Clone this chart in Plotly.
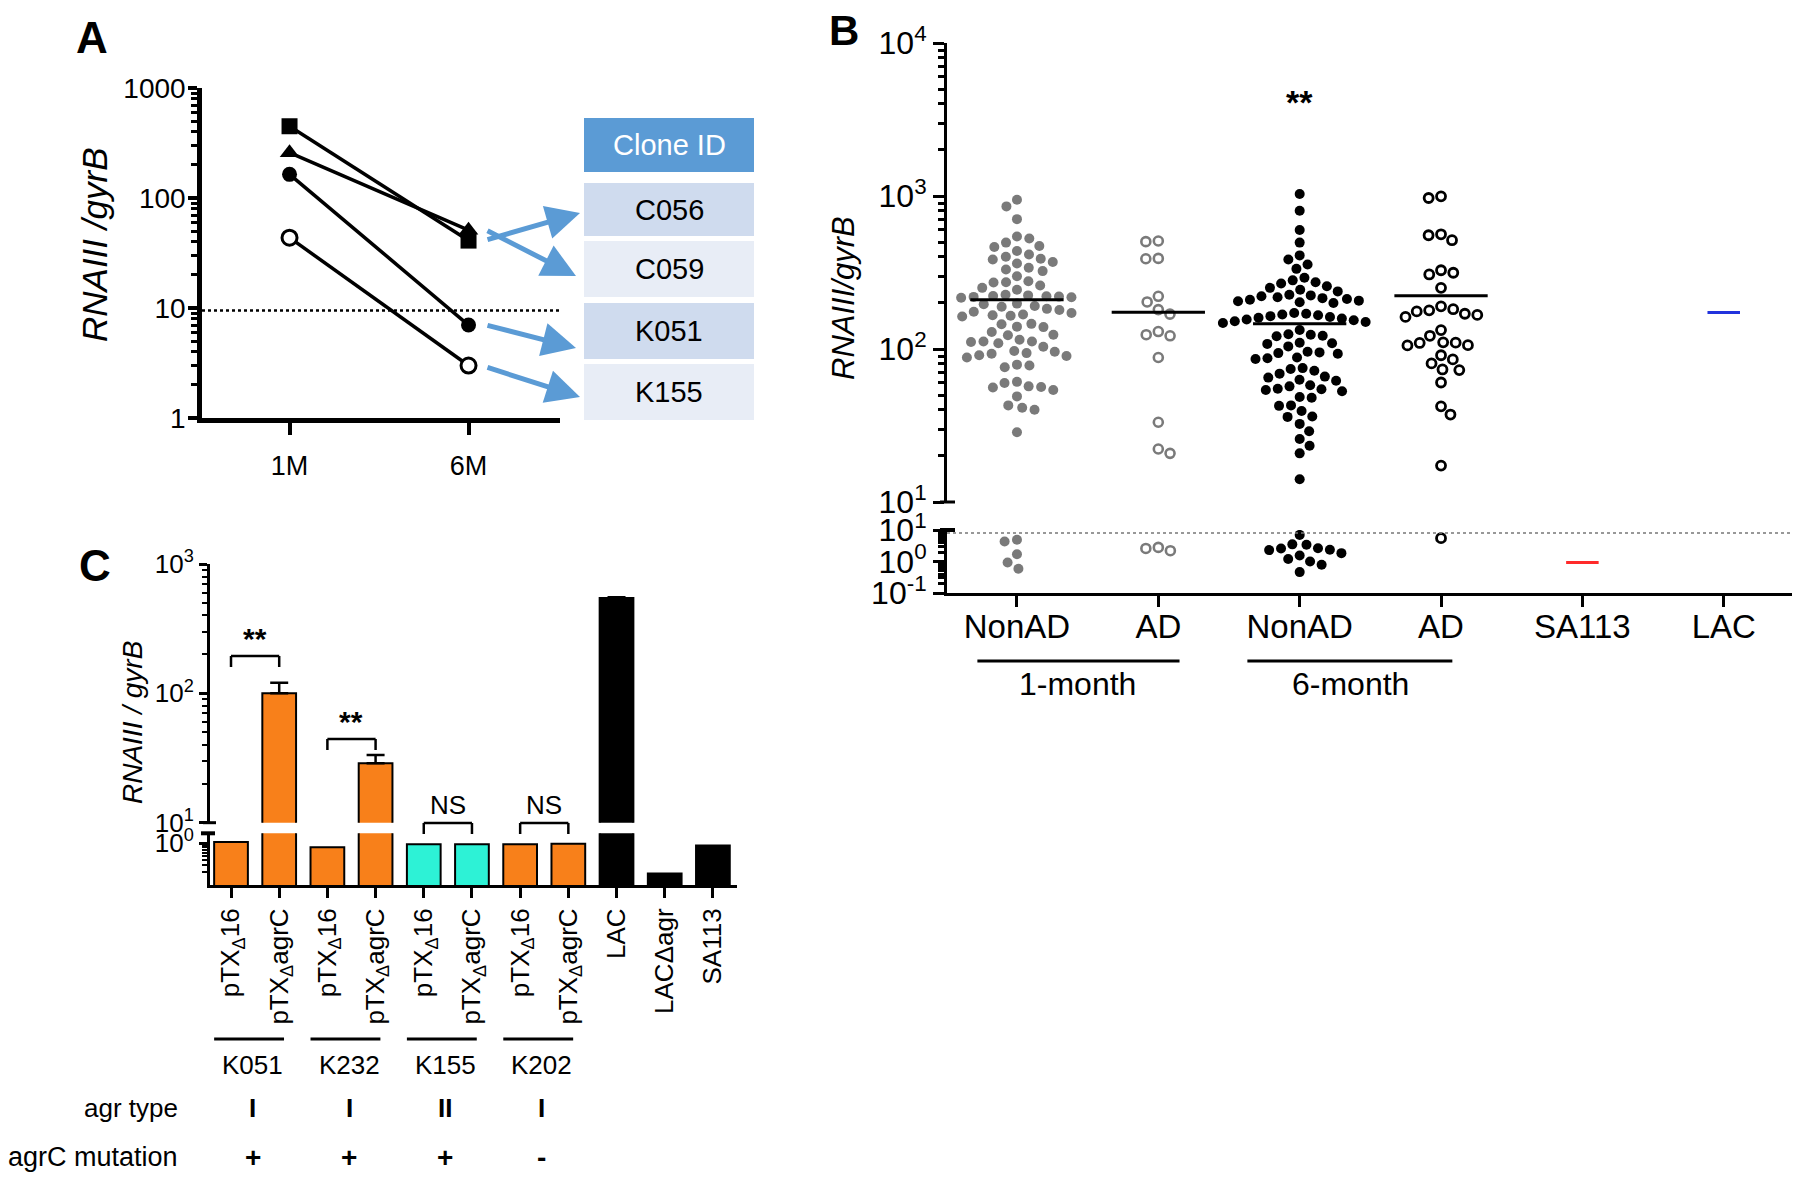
import math
import plotly.graph_objects as go

W, H = 1800, 1181
OFF = 8  # page body margin of the browser

# ---------------- data ----------------
# Panel A : RNAIII/gyrB of four clones at 1 and 6 months
a_times = ["1M", "6M"]
a_square = [449, 41]
a_triangle = [258, 51]
a_filled_circle = [164, 7.0]
a_open_circle = [43.6, 3.0]
a_threshold = 9.5
clone_ids = ["C056", "C059", "K051", "K155"]

# Panel B : individual isolates
b_categories = ["NonAD", "AD", "NonAD", "AD", "SA113", "LAC"]
b_periods = ["1-month", "6-month"]
b_nonad_1m = [946, 855, 706, 543, 527, 496, 471, 464, 437, 415, 401, 389, 385, 370, 362,
              340, 331, 323, 299, 277, 273, 272, 260, 251, 244,
              226, 224, 222, 221, 220, 219, 218, 216, 198, 196, 191, 189, 183, 180, 175,
              172, 168, 166, 165, 163,
              146, 145, 140, 139, 129, 124, 123, 115, 112, 112, 111, 109, 103.5, 97, 96,
              94, 93, 91, 90, 88, 79, 78, 76, 61, 60, 57, 56.5, 56, 54, 49, 42.8, 41.3,
              40.1, 28.6,
              4.9, 4.3, 1.7, 0.93, 0.59]
b_ad_1m = [508, 503, 391, 389, 221, 203, 181, 169, 130, 124, 122, 88, 33.2, 22.2, 20.8,
           2.8, 2.6, 2.2]
b_nonad_6m = [1030, 800, 600, 496, 409, 385, 357, 334, 292, 281, 273, 268, 257, 251, 244, 238,
              226, 224, 221, 218, 215, 212, 210, 207, 205, 202, 200,
              172, 170,
              168, 166, 164, 162, 160, 158, 156, 154, 152, 150, 148,
              133, 125, 124, 122, 121, 110, 109, 108, 104, 96, 95, 94, 93, 88, 87, 86,
              75, 74, 72, 69, 66, 65, 63, 62, 58, 57, 55, 54.5, 54, 53, 48.5, 48, 42.8,
              42.5, 39.3, 36.2, 36, 32.4, 29, 25.8, 23.3, 20.8, 14.1,
              7.0, 3.5, 2.6, 2.35, 1.84, 1.55, 2.3, 2.65, 3.4, 1.0, 1.2, 0.79, 0.46]
b_ad_6m = [995, 970, 562, 554, 514, 327, 315, 307, 251, 190, 182, 179, 176, 170, 167, 162,
           133, 122, 110, 110.5, 109.5, 106, 105.5, 91, 85.5, 80.5, 73.5, 72.8, 60.4, 42.2,
           37.3, 17.3, 5.5]
b_medians = [210, 174, 146, 223]
b_sa113 = 0.93
b_lac = 173
b_threshold = 8
b_signif = "**"

# Panel C : complementation
c_labels = ["pTX<sub>Δ</sub>16", "pTX<sub>Δ</sub>agrC", "pTX<sub>Δ</sub>16", "pTX<sub>Δ</sub>agrC",
            "pTX<sub>Δ</sub>16", "pTX<sub>Δ</sub>agrC", "pTX<sub>Δ</sub>16", "pTX<sub>Δ</sub>agrC",
            "LAC", "LACΔagr", "SA113"]
c_values = [1.08, 100, 0.80, 28.8, 0.95, 0.95, 0.95, 0.97, 545, 0.19, 0.88]
c_errors = [0.03, 21, 0.02, 4.5, 0.02, 0.02, 0.02, 0.02, 8, 0.01, 0.02]
c_clones = ["K051", "K232", "K155", "K202"]
c_agr_type = ["I", "I", "II", "I"]
c_agrc_mut = ["+", "+", "+", "-"]
c_signif = ["**", "**", "NS", "NS"]

# ---------------- styles ----------------
ORANGE = "#F8801A"
CYAN = "#2DF2D6"
GRAY = "#7a7a7a"
BLUE = "#5B9BD5"
c_colors = [ORANGE] * 4 + [CYAN] * 2 + [ORANGE] * 2 + ["black"] * 3
SANS = "Liberation Sans, Arial"


def px(x):
    return (x - OFF) / W


def py(y):
    return 1 - (y - OFF) / H


def minor_vals(e0, e1):
    return [m * 10 ** e for e in range(e0, e1) for m in range(2, 10)]


def swarm_offsets(values, px_per_decade, px_per_cat, min_dist):
    ys = [math.log10(v) * px_per_decade for v in values]
    order = sorted(range(len(values)), key=lambda i: -ys[i])
    placed = []
    out = [0.0] * len(values)
    flip = 1
    for i in order:
        y = ys[i]
        cands = {0.0}
        for (xp, yp) in placed:
            dy = abs(yp - y)
            if dy < min_dist:
                dx = math.sqrt(min_dist ** 2 - dy ** 2)
                cands.add(xp + dx)
                cands.add(xp - dx)
        best = 0.0
        for c in sorted(cands, key=lambda c: (round(abs(c), 6), -flip * c)):
            if all((c - xp) ** 2 + (y - yp) ** 2 >= min_dist ** 2 - 1e-6 for xp, yp in placed):
                best = c
                break
        flip = -flip
        out[i] = best / px_per_cat
        placed.append((best, y))
    return out


fig = go.Figure()

# ================= Panel A =================
A_XR = [-0.489, 1.511]
a_x = [0, 1]
a_series = [
    (a_square, "square", 16, "black"),
    (a_triangle, "triangle-up", 17, "black"),
    (a_filled_circle, "circle", 15, "black"),
    (a_open_circle, "circle", 15, "white"),
]
fig.add_trace(go.Scatter(x=list(A_XR), y=[a_threshold, a_threshold], mode="lines",
                         line=dict(color="black", width=2.5, dash="dot"),
                         xaxis="x", yaxis="y", showlegend=False, hoverinfo="skip"))
for vals, sym, size, col in a_series:
    fig.add_trace(go.Scatter(
        x=a_x, y=vals, mode="lines+markers",
        line=dict(color="black", width=3.5),
        marker=dict(symbol=sym, size=size, color=col,
                    line=dict(color="black", width=3 if col == "white" else 0)),
        xaxis="x", yaxis="y", showlegend=False))

# ================= Panel B =================
B_XR = [-0.495, 5.49]
B_UP = (502 - 43) / 3.0
B_LO = (593 - 530) / 2.0
B_PXCAT = (1793 - 947) / (B_XR[1] - B_XR[0])

b_groups = [
    (b_nonad_1m, dict(symbol="circle", size=10, color=GRAY), 12.5),
    (b_ad_1m, dict(symbol="circle-open", size=9, color=GRAY, line=dict(color=GRAY, width=2.6)), 12.5),
    (b_nonad_6m, dict(symbol="circle", size=10, color="black"), 12.0),
    (b_ad_6m, dict(symbol="circle-open", size=9, color="black", line=dict(color="black", width=2.8)), 12.5),
]
for gi, (vals, mk, md) in enumerate(b_groups):
    up = [v for v in vals if v >= 10]
    lo = [v for v in vals if v < 10]
    if up:
        off = swarm_offsets(up, B_UP, B_PXCAT, md)
        fig.add_trace(go.Scatter(x=[gi + o for o in off], y=up, mode="markers", marker=mk,
                                 xaxis="x2", yaxis="y2", showlegend=False))
    if lo:
        off = swarm_offsets(lo, B_LO, B_PXCAT, md)
        fig.add_trace(go.Scatter(x=[gi + o for o in off], y=lo, mode="markers", marker=mk,
                                 xaxis="x2", yaxis="y3", showlegend=False))
for gi, m in enumerate(b_medians):
    fig.add_trace(go.Scatter(x=[gi - 0.33, gi + 0.33], y=[m, m], mode="lines",
                             line=dict(color="black", width=3), xaxis="x2", yaxis="y2",
                             showlegend=False))
fig.add_trace(go.Scatter(x=list(B_XR), y=[b_threshold, b_threshold], mode="lines",
                         line=dict(color="#777", width=1.5, dash="dot"),
                         xaxis="x2", yaxis="y3", showlegend=False))
fig.add_trace(go.Scatter(x=[4 - 0.115, 4 + 0.115], y=[b_sa113, b_sa113], mode="lines",
                         line=dict(color="#ff2a2a", width=3), xaxis="x2", yaxis="y3",
                         showlegend=False))
fig.add_trace(go.Scatter(x=[5 - 0.115, 5 + 0.115], y=[b_lac, b_lac], mode="lines",
                         line=dict(color="#2233dd", width=3), xaxis="x2", yaxis="y2",
                         showlegend=False))

# ================= Panel C =================
C_XR = [-0.436, 10.5]
c_x = list(range(len(c_values)))
fig.add_trace(go.Bar(
    x=c_x, y=c_values, width=0.7, marker=dict(color=c_colors, line=dict(color="black", width=2)),
    error_y=dict(type="data", symmetric=False,
                 array=[e if v >= 10 else None for v, e in zip(c_values, c_errors)],
                 arrayminus=[0 if v >= 10 else None for v in c_values],
                 color="black", thickness=2.5, width=9),
    xaxis="x3", yaxis="y4", showlegend=False))
fig.add_trace(go.Bar(
    x=c_x, y=c_values, width=0.7, marker=dict(color=c_colors, line=dict(color="black", width=2)),
    xaxis="x3", yaxis="y5", showlegend=False))

# ---------------- axes ----------------
axis_common = dict(showgrid=False, zeroline=False, showline=True, linecolor="black",
                   ticks="outside", tickcolor="black", automargin=False)

sup = lambda e: "10<sup>%d</sup>" % e

layout = dict(
    width=W, height=H, autosize=False,
    margin=dict(l=0, r=0, t=0, b=0, pad=0),
    paper_bgcolor="white", plot_bgcolor="white",
    showlegend=False, bargap=0.3,
    # Panel A
    xaxis=dict(axis_common, domain=[px(202), px(560)], range=A_XR, anchor="y",
               linewidth=4.5, ticklen=12, tickwidth=3.5, tickvals=a_x, ticktext=a_times,
               tickfont=dict(family=SANS, size=27, color="black"), ticklabelstandoff=8),
    yaxis=dict(axis_common, domain=[py(418), py(88)], type="log", range=[0, 3], anchor="x",
               linewidth=4.5, ticklen=9, tickwidth=3.5, tickvals=[1, 10, 100, 1000],
               ticktext=["1", "10", "100", "1000"],
               tickfont=dict(family=SANS, size=28, color="black"), ticklabelstandoff=-3,
               minor=dict(tickmode="array", tickvals=minor_vals(0, 3), ticks="outside",
                          ticklen=6, tickwidth=3, tickcolor="black")),
    # Panel B
    xaxis2=dict(axis_common, domain=[px(947), px(1793)], range=B_XR, anchor="y3",
                linewidth=3, ticklen=11, tickwidth=3, tickvals=list(range(6)),
                ticktext=b_categories, tickfont=dict(family=SANS, size=33, color="black"),
                ticklabelstandoff=-9),
    yaxis2=dict(axis_common, domain=[py(502), py(43)], type="log", range=[1, 4], anchor="x2",
                linewidth=3, ticklen=11, tickwidth=3, tickvals=[10, 100, 1000, 10000],
                ticktext=[sup(1), sup(2), sup(3), sup(4)],
                tickfont=dict(family=SANS, size=32, color="black"),
                minor=dict(tickmode="array", tickvals=minor_vals(1, 4), ticks="outside",
                           ticklen=6, tickwidth=2.5, tickcolor="black")),
    yaxis3=dict(axis_common, domain=[py(593), py(530)], type="log", range=[-1, 1], anchor="x2",
                linewidth=3, ticklen=11, tickwidth=3, tickvals=[0.1, 1, 10],
                ticktext=[sup(-1), sup(0), sup(1)],
                tickfont=dict(family=SANS, size=32, color="black"),
                minor=dict(tickmode="array", tickvals=minor_vals(-1, 1), ticks="outside",
                           ticklen=6, tickwidth=2.5, tickcolor="black")),
    # Panel C
    xaxis3=dict(axis_common, domain=[px(210), px(737)], range=C_XR, anchor="y5",
                linewidth=3, ticklen=10, tickwidth=2.5, tickvals=c_x, ticktext=c_labels,
                tickangle=-90, tickfont=dict(family=SANS, size=26, color="black")),
    yaxis4=dict(axis_common, domain=[py(822.7), py(564)], type="log", range=[1, 3], anchor="x3",
                linewidth=3, ticklen=8, tickwidth=2.5, tickvals=[10, 100, 1000],
                ticktext=[sup(1), sup(2), sup(3)],
                tickfont=dict(family=SANS, size=26, color="black"),
                minor=dict(tickmode="array", tickvals=minor_vals(1, 3), ticks="outside",
                           ticklen=5, tickwidth=2, tickcolor="black")),
    yaxis5=dict(axis_common, domain=[py(885), py(833.3)], type="log", range=[-1, 0.24],
                anchor="x3", linewidth=3, ticklen=8, tickwidth=2.5, tickvals=[1],
                ticktext=[sup(0)], tickfont=dict(family=SANS, size=26, color="black"),
                minor=dict(tickmode="array", tickvals=minor_vals(-1, 0), ticks="outside",
                           ticklen=5, tickwidth=2, tickcolor="black")),
)
fig.update_layout(**layout)

annotations = []
shapes = []

def text(x, y, s, size, family=SANS, color="black", xanchor="center", angle=0, bold=False,
         italic=False, xref="paper", yref="paper"):
    if bold:
        s = "<b>%s</b>" % s
    if italic:
        s = "<i>%s</i>" % s
    annotations.append(dict(x=x, y=y, xref=xref, yref=yref, text=s, showarrow=False,
                            xanchor=xanchor, yanchor="middle", textangle=angle,
                            font=dict(family=family, size=size, color=color)))

def line(x0, y0, x1, y1, width=2.5, color="black", xref="paper", yref="paper"):
    shapes.append(dict(type="line", x0=x0, y0=y0, x1=x1, y1=y1, xref=xref, yref=yref,
                       line=dict(color=color, width=width)))

# panel letters
text(px(92), py(38), "A", 44, bold=True)
text(px(844), py(30), "B", 42, bold=True)
text(px(95), py(565), "C", 44, bold=True)

# axis titles
text(px(95), py(245), "RNAIII /gyrB", 35, angle=-90, italic=True)
text(px(843), py(298), "RNAIII/gyrB", 31, angle=-90, italic=True)
text(px(132), py(723), "RNAIII / gyrB", 28, angle=-90, italic=True)

# Panel A: Clone ID table and arrows
tbl_x0, tbl_x1 = 584, 754
shapes.append(dict(type="rect", xref="paper", yref="paper", x0=px(tbl_x0), x1=px(tbl_x1),
                   y0=py(172), y1=py(118), fillcolor=BLUE, line=dict(width=0)))
text(px((tbl_x0 + tbl_x1) / 2), py(145), "Clone ID", 29, color="white")
rows = [(183, 236), (241, 297), (303, 359), (364, 420)]
row_fill = ["#CFDBEE", "#E8EDF6", "#CFDBEE", "#E8EDF6"]
for (r0, r1), cid, fc in zip(rows, clone_ids, row_fill):
    shapes.append(dict(type="rect", xref="paper", yref="paper", x0=px(tbl_x0), x1=px(tbl_x1),
                       y0=py(r1), y1=py(r0), fillcolor=fc, line=dict(width=0)))
    text(px((tbl_x0 + tbl_x1) / 2), py((r0 + r1) / 2), cid, 29)
arrows = [((580, 213), (486, 240)), ((576, 276), (486, 230)),
          ((576, 348), (486, 325)), ((580, 397), (486, 367))]
for (hx, hy), (tx, ty) in arrows:
    annotations.append(dict(x=px(hx), y=py(hy), xref="paper", yref="paper", text="",
                            showarrow=True, ax=tx - hx, ay=ty - hy, arrowhead=2,
                            arrowsize=1.35, arrowwidth=5, arrowcolor=BLUE, standoff=0))

# Panel B: break caps, significance, period labels
line(px(940), py(502), px(955), py(502), width=3)
line(px(940), py(530), px(955), py(530), width=4)
text(2, py(102), "<b>%s</b>" % b_signif, 34, xref="x2")
for (x0, x1, xc), lbl in zip([(-0.28, 1.15, 0.43), (1.63, 3.08, 2.36)], b_periods):
    line(x0, py(661), x1, py(661), width=3, xref="x2")
    text(xc, py(684), lbl, 32, xref="x2")

# Panel C: break caps, brackets, group labels
line(px(203), py(822.7), px(216), py(822.7), width=3)
line(px(201), py(833.3), px(215), py(833.3), width=4)
br_y = [656, 739, 823, 823]
for g, (s, by) in enumerate(zip(c_signif, br_y)):
    x0, x1 = 2 * g, 2 * g + 1
    line(x0, py(by), x1, py(by), width=2.5, xref="x3")
    line(x0, py(by), x0, py(by + 11), width=2.5, xref="x3")
    line(x1, py(by), x1, py(by + 11), width=2.5, xref="x3")
    text(2 * g + 0.5, py(by - 18), "<b>%s</b>" % s if s == "**" else s,
         30 if s == "**" else 26, xref="x3")
for g in range(4):
    line(2 * g - 0.35, py(1039), 2 * g + 1.1, py(1039), width=3, xref="x3")
    text(2 * g + 0.45, py(1065), c_clones[g], 26, xref="x3")
    text(2 * g + 0.45, py(1108), c_agr_type[g], 26, bold=True, xref="x3")
    text(2 * g + 0.45, py(1157), c_agrc_mut[g], 28, bold=True, xref="x3")
text(px(180), py(1108), "agr type", 26, xanchor="right")
text(px(180), py(1157), "agrC mutation", 27, xanchor="right")

fig.update_layout(annotations=annotations, shapes=shapes)
fig.write_html("out.html")
